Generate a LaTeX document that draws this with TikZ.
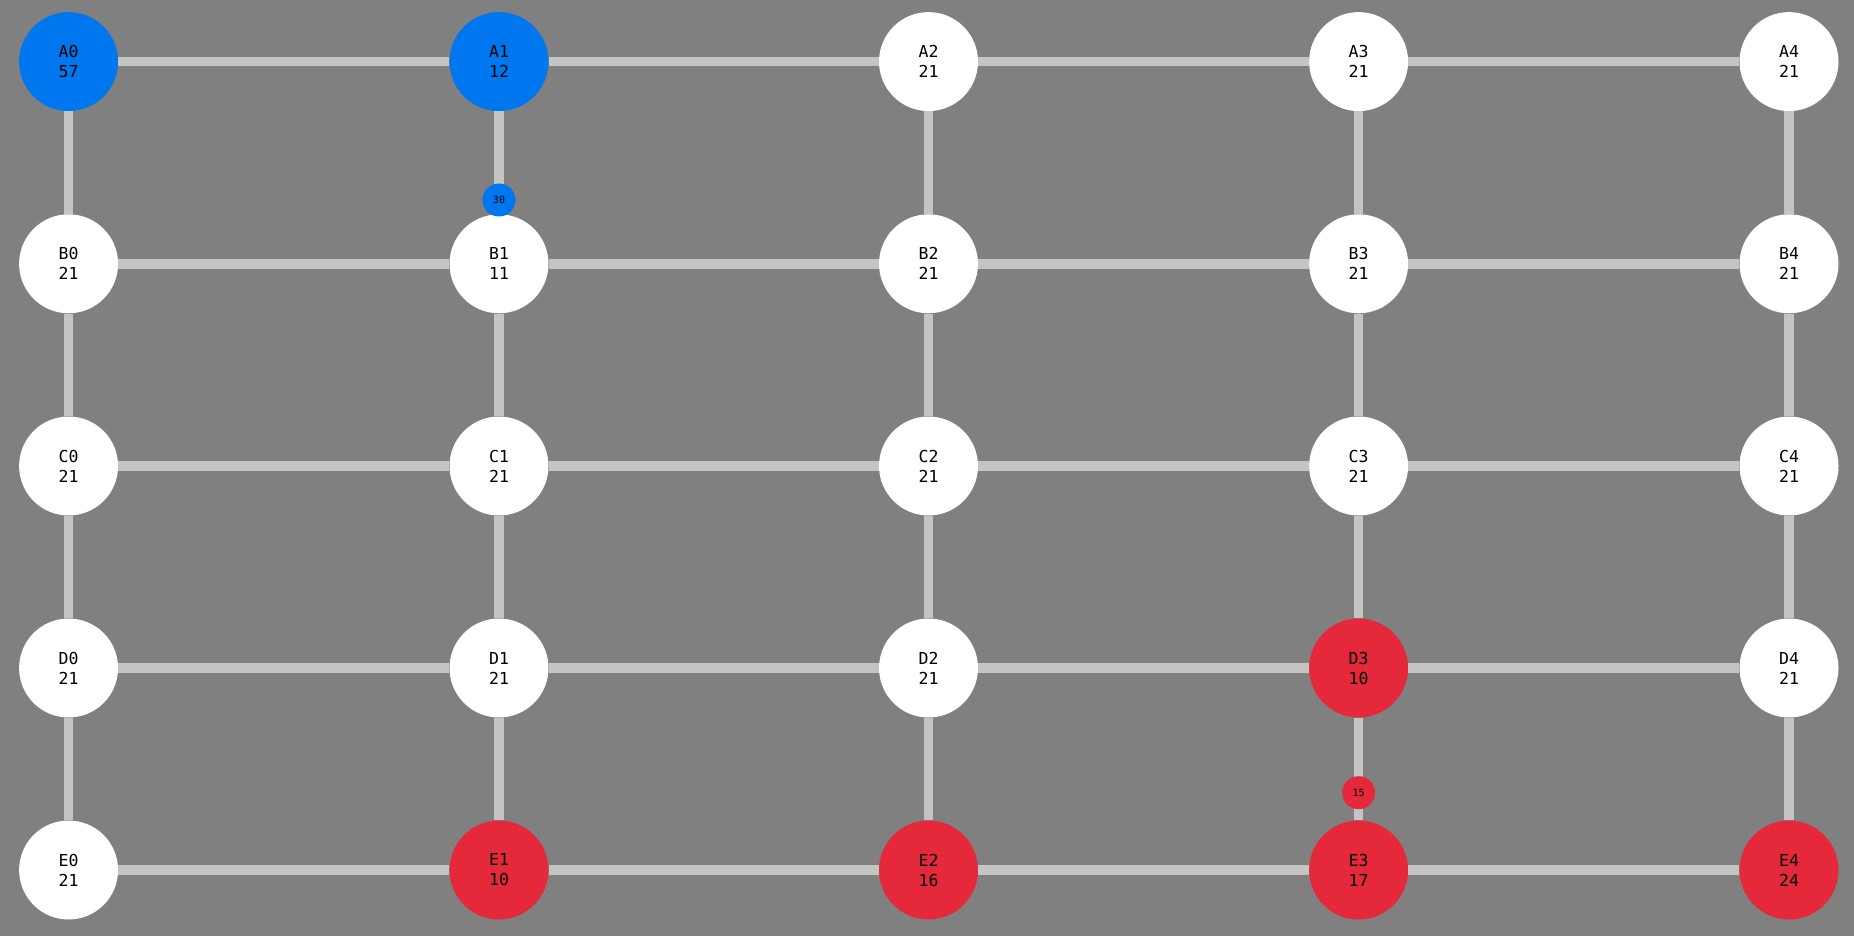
\documentclass[tikz,border=0pt]{standalone}
\usepackage{fontspec}
\setmonofont{DejaVu Sans Mono}
\definecolor{bg}{RGB}{128,128,128}
\definecolor{edgec}{RGB}{196,196,196}
\definecolor{nblue}{RGB}{0,119,238}
\definecolor{nred}{RGB}{229,41,58}
\tikzset{
  vert/.style={circle, fill=white, minimum size=99pt, inner sep=0pt, align=center,
    font=\ttfamily\fontsize{16.5}{20}\selectfont, text=black},
  bluev/.style={vert, fill=nblue},
  redv/.style={vert, fill=nred},
  small/.style={circle, minimum size=33pt, inner sep=0pt,
    font=\ttfamily\fontsize{10}{10}\selectfont, text=black},
  link/.style={draw=edgec, line width=9.5pt}
}
\begin{document}
\begin{tikzpicture}[x=1pt,y=-1pt]
\fill[bg] (0,0) rectangle (1854,936);
\useasboundingbox (0,0) rectangle (1854,936);
\def\cx{{68.6,499,928.5,1358.6,1789}}
\def\ry{{61.6,263.8,466,668,870}}
% nodes: name / column / row / style / value
\foreach \nm/\c/\i/\st/\v in {
  A0/0/0/bluev/57, A1/1/0/bluev/12, A2/2/0/vert/21, A3/3/0/vert/21, A4/4/0/vert/21,
  B0/0/1/vert/21,  B1/1/1/vert/11,  B2/2/1/vert/21, B3/3/1/vert/21, B4/4/1/vert/21,
  C0/0/2/vert/21,  C1/1/2/vert/21,  C2/2/2/vert/21, C3/3/2/vert/21, C4/4/2/vert/21,
  D0/0/3/vert/21,  D1/1/3/vert/21,  D2/2/3/vert/21, D3/3/3/redv/10, D4/4/3/vert/21,
  E0/0/4/vert/21,  E1/1/4/redv/10,  E2/2/4/redv/16, E3/3/4/redv/17, E4/4/4/redv/24}{
  \pgfmathsetmacro{\xx}{\cx[\c]}
  \pgfmathsetmacro{\yy}{\ry[\i]}
  \node[\st] (\nm) at (\xx,\yy) {\nm\\\v};
}
% edges
\foreach \r in {A,B,C,D,E}{
  \foreach \c [evaluate=\c as \n using int(\c+1)] in {0,...,3}{
    \draw[link] (\r\c) -- (\r\n);
  }
}
\foreach \c in {0,...,4}{
  \draw[link] (A\c) -- (B\c);
  \draw[link] (B\c) -- (C\c);
  \draw[link] (C\c) -- (D\c);
  \draw[link] (D\c) -- (E\c);
}
% small markers
\node[small, fill=nblue] (s30) at (499,200) {30};
\node[small, fill=nred] (s15) at (1358.6,792.7) {15};
\end{tikzpicture}
\end{document}
